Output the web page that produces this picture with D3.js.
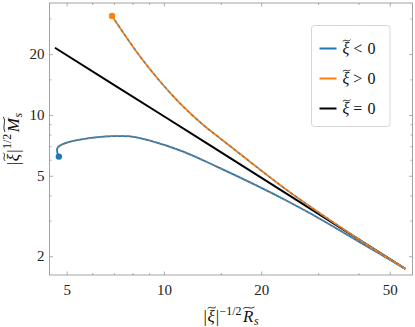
<!DOCTYPE html>
<html>
<head>
<meta charset="utf-8">
<script src="https://cdn.jsdelivr.net/npm/d3@7"></script>
<style>
  body { margin: 0; background: #fff; }
  svg { display: block; }
  svg text { font-family: "Liberation Serif", "Times New Roman", "DejaVu Serif", serif; white-space: pre; }
</style>
</head>
<body>
<div id="chart"></div>
<script>
// values
var negX = [4.73, 4.68, 4.677, 4.77, 5.06, 5.43, 6.49, 7.06, 7.85, 9.06, 11.48, 14.57, 18.48, 23.42, 28.34, 40.5, 55.9];
var negY = [6.22, 6.49, 6.84, 7.05, 7.33, 7.52, 7.81, 7.85, 7.83, 7.46, 6.58, 5.55, 4.64, 3.84, 3.26, 2.34, 1.73];
var posX = [6.91, 8.60, 10.95, 13.24, 14.92, 22.88, 28.34, 40.5, 55.9];
var posY = [30.9, 18.7, 11.87, 8.92, 7.67, 4.50, 3.52, 2.40, 1.73];
var zeroX = [4.6, 10, 20, 55.9];
var zeroY = [21.5, 9.85, 4.89, 1.73];

var xMajor = [5, 10, 20, 50];
var xMinor = [6, 7, 8, 9, 15, 30, 40];
var yMajor = [2, 5, 10, 20];
var yMinor = [3, 4, 6, 7, 8, 9, 15, 30];

var legendItems = [
  {sign: "<", color: "#1f77b4"},
  {sign: ">", color: "#ff7f0e"},
  {sign: "=", color: "#000000"}
];

var W = 415, H = 327;
var mLeft = 49.5, mRight = 412.5, mTop = 3, mBottom = 275;
var serif = "'Liberation Serif', 'Times New Roman', serif";

var svg = d3.select("#chart").append("svg")
  .attr("width", W).attr("height", H);

var x = d3.scaleLog().domain([4.425, 58.8]).range([mLeft, mRight]);
var y = d3.scaleLog().domain([1.614, 35.8]).range([mBottom, mTop]);

// axes, ticks pointing inward on all four sides
function drawAxis(axisFn, scale, major, minor, transform, labels) {
  var g = svg.append("g").attr("transform", transform);
  g.append("g").call(axisFn(scale).tickValues(minor).tickSize(-2).tickFormat(""));
  g.append("g").call(axisFn(scale).tickValues(major).tickSizeInner(-3.5).tickSizeOuter(0).tickPadding(6)
    .tickFormat(labels ? d3.format("d") : ""));
  g.attr("font-family", serif);
  g.selectAll(".domain").remove();
  g.selectAll(".tick line").attr("stroke", "#999").attr("stroke-width", 0.8);
  g.selectAll(".tick text").attr("fill", "#222").attr("font-family", serif).style("font-size", "15px");
  return g;
}
var gB = drawAxis(d3.axisBottom, x, xMajor, xMinor, "translate(0," + mBottom + ")", true);
drawAxis(d3.axisTop, x, xMajor, xMinor, "translate(0," + mTop + ")", false);
var gL = drawAxis(d3.axisLeft, y, yMajor, yMinor, "translate(" + mLeft + ",0)", true);
drawAxis(d3.axisRight, y, yMajor, yMinor, "translate(" + mRight + ",0)", false);
gB.selectAll(".tick text").attr("dy", "0.95em");
gL.selectAll(".tick text").attr("dx", "1px");

svg.append("rect")
  .attr("x", mLeft).attr("y", mTop)
  .attr("width", mRight - mLeft).attr("height", mBottom - mTop)
  .attr("fill", "none").attr("stroke", "#999").attr("stroke-width", 0.9);

// curves
var line = d3.line()
  .x(function(d){ return x(d[0]); })
  .y(function(d){ return y(d[1]); })
  .curve(d3.curveCatmullRom.alpha(0.5));

var neg = d3.zip(negX, negY);
var pos = d3.zip(posX, posY);
var zero = d3.zip(zeroX, zeroY);

var plot = svg.append("g");

plot.append("path").datum(zero).attr("d", line)
  .attr("fill", "none").attr("stroke", "#000").attr("stroke-width", 2);

plot.append("path").datum(neg).attr("d", line)
  .attr("fill", "none").attr("stroke", "#1f77b4").attr("stroke-width", 1.8);
plot.append("path").datum(neg.slice(2)).attr("d", line)
  .attr("fill", "none").attr("stroke", "#7f7f7f").attr("stroke-width", 1.5)
  .attr("stroke-dasharray", "3,2.5");

plot.append("path").datum(pos).attr("d", line)
  .attr("fill", "none").attr("stroke", "#ff7f0e").attr("stroke-width", 1.8);
plot.append("path").datum(pos).attr("d", line)
  .attr("fill", "none").attr("stroke", "#7f7f7f").attr("stroke-width", 1.5)
  .attr("stroke-dasharray", "3,2.5");

plot.append("circle").attr("cx", x(negX[0])).attr("cy", y(negY[0])).attr("r", 3.2).attr("fill", "#1f77b4");
plot.append("circle").attr("cx", x(posX[0])).attr("cy", y(posY[0])).attr("r", 3.2).attr("fill", "#ff7f0e");

// little mathtext-like label builder: pieces laid left to right
function mathLabel(parent, parts, size) {
  var g = parent.append("g");
  var cx = 0;
  parts.forEach(function(p){
    var fs = (p.sup || p.sub) ? size * 0.7 : size;
    var dy = p.sup ? -size * 0.42 : (p.sub ? size * 0.2 : 0);
    var t = g.append("text").attr("x", cx).attr("y", dy)
      .attr("font-family", serif)
      .style("font-size", fs + "px")
      .style("font-style", p.it ? "italic" : "normal")
      .attr("fill", "#111")
      .text(p.t);
    var w = t.node().getComputedTextLength();
    if (p.tilde) {
      var x0 = cx + 0.3, x1 = cx + w + (p.it ? 1.2 : 0), ty = -size * 0.84, h = 1.7, tw = x1 - x0;
      g.append("path")
        .attr("d", "M" + x0 + "," + (ty + h * 0.5) +
          "C" + (x0 + tw * 0.35) + "," + (ty - h * 1.3) + " " +
          (x0 + tw * 0.65) + "," + (ty + h * 1.3) + " " +
          x1 + "," + (ty - h * 0.5))
        .attr("fill", "none").attr("stroke", "#111").attr("stroke-width", 0.9);
    }
    cx += w + (p.gap || 0);
  });
  return {g: g, width: cx};
}

var xl = mathLabel(svg, [
  {t: "|", gap: 0.5}, {t: "ξ", it: true, tilde: true, gap: 1}, {t: "|", gap: 0.5},
  {t: "−1/2", sup: true, gap: 1.5}, {t: "R", it: true, tilde: true, gap: 0.5}, {t: "s", it: true, sub: true}
], 17);
xl.g.attr("transform", "translate(" + ((mLeft + mRight) / 2 - xl.width / 2) + ",322)");

var yl = mathLabel(svg, [
  {t: "|", gap: 0.5}, {t: "ξ", it: true, tilde: true, gap: 1}, {t: "|", gap: 0.5},
  {t: "1/2", sup: true, gap: 1.5}, {t: "M", it: true, tilde: true, gap: 0.5}, {t: "s", it: true, sub: true}
], 17);
yl.g.attr("transform", "translate(18.5," + ((mTop + mBottom) / 2 + yl.width / 2) + ") rotate(-90)");

// legend
var lg = svg.append("g").attr("transform", "translate(311.5,25.5)");
lg.append("rect").attr("width", 78.5).attr("height", 101).attr("rx", 3)
  .attr("fill", "#fff").attr("fill-opacity", 0.8)
  .attr("stroke", "#d6d6d6").attr("stroke-width", 1);
legendItems.forEach(function(d, i){
  var row = lg.append("g").attr("transform", "translate(0," + (23 + i * 30) + ")");
  row.append("line").attr("x1", 8).attr("x2", 25).attr("y1", 0).attr("y2", 0)
    .attr("stroke", d.color).attr("stroke-width", 2);
  var m = mathLabel(row, [
    {t: "ξ", it: true, tilde: true, gap: 4},
    {t: d.sign, gap: 5},
    {t: "0"}
  ], 16);
  m.g.attr("transform", "translate(31,5.5)");
});
</script>
</body>
</html>
